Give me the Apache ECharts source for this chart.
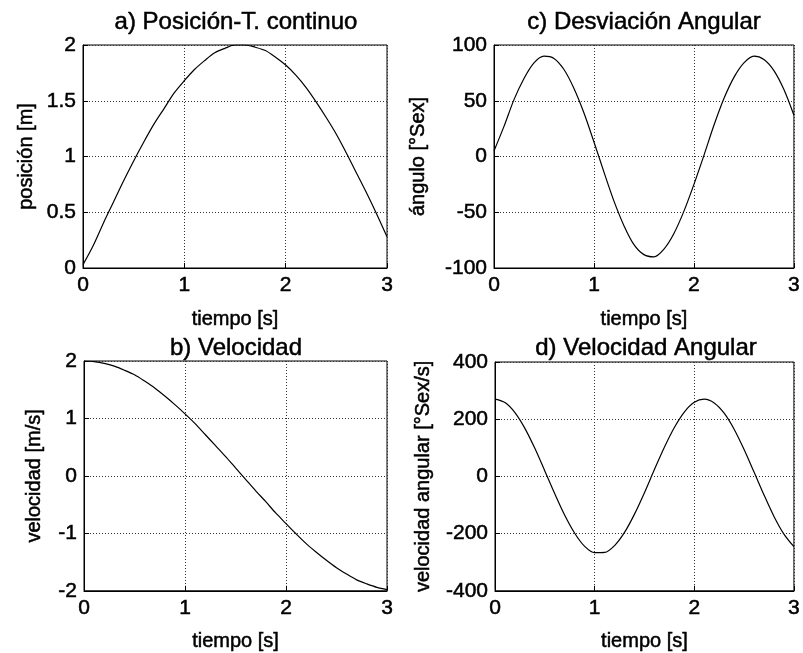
<!DOCTYPE html>
<html>
<head>
<meta charset="utf-8">
<script src="https://cdn.jsdelivr.net/npm/echarts@6/dist/echarts.min.js"></script>
<style>
  html, body { margin: 0; padding: 0; background: #fff; }
  #chart { width: 803px; height: 653px; }
</style>
</head>
<body>
<div id="chart"></div>
<script>
// Sample times [s]
const tiempo = [0.0, 0.1, 0.2, 0.3, 0.4, 0.5, 0.6, 0.7, 0.8, 0.9,
                1.0, 1.1, 1.2, 1.3, 1.4, 1.5, 1.6, 1.7, 1.8, 1.9,
                2.0, 2.1, 2.2, 2.3, 2.4, 2.5, 2.6, 2.7, 2.8, 2.9, 3.0];

// a) position [m]
const posicion = [0.03, 0.20, 0.40, 0.59, 0.78, 0.96, 1.13, 1.29, 1.43, 1.57,
                  1.68, 1.78, 1.86, 1.93, 1.97, 2.00, 2.00, 1.98, 1.95, 1.89,
                  1.82, 1.73, 1.62, 1.49, 1.35, 1.20, 1.03, 0.85, 0.67, 0.48, 0.28];

// b) velocity [m/s]
const velocidad = [2.00, 1.99, 1.96, 1.91, 1.84, 1.76, 1.65, 1.53, 1.39, 1.24,
                   1.08, 0.91, 0.72, 0.53, 0.34, 0.14, -0.06, -0.26, -0.45, -0.65,
                   -0.83, -1.01, -1.18, -1.33, -1.47, -1.60, -1.71, -1.81, -1.88, -1.94, -1.98];

// c) angular deviation [°Sex]
const angulo = [5, 27, 51, 70, 84, 90, 88, 78, 61, 39,
                13, -14, -40, -62, -79, -88, -90, -83, -69, -49,
                -25, 1, 28, 52, 71, 84, 90, 87, 77, 60, 37];

// d) angular velocity [°Sex/s]
const velAngular = [270, 258, 223, 168, 98, 19, -61, -136, -199, -245,
                    -267, -266, -242, -196, -132, -57, 24, 102, 171, 225,
                    259, 270, 257, 221, 165, 94, 15, -65, -140, -202, -246];

// Axis ranges and tick steps
const xRange = { min: 0, max: 3, step: 1 };
const yRanges = [
  { min: 0, max: 2, step: 0.5 },
  { min: -100, max: 100, step: 50 },
  { min: -2, max: 2, step: 1 },
  { min: -400, max: 400, step: 200 }
];

const titulos = ['a) Posición-T. continuo', 'c) Desviación Angular',
                 'b) Velocidad', 'd) Velocidad Angular'];
const nombresY = ['posición [m]', 'ángulo [°Sex]',
                  'velocidad [m/s]', 'velocidad angular [°Sex/s]'];
const nombreX = 'tiempo [s]';
const series = [posicion, angulo, velocidad, velAngular];

const FONT = 'Liberation Sans, Arial, Helvetica, sans-serif';
// slightly heavier strokes for all text
const ink = { color: '#000', textBorderColor: '#000', textBorderWidth: 0.5 };

// Panel layout: a (top-left), c (top-right), b (bottom-left), d (bottom-right)
const grids = [
  { left: 83,  top: 45,  width: 304, height: 223 },
  { left: 494, top: 45,  width: 303, height: 223 },
  { left: 84,  top: 361, width: 303, height: 233 },
  { left: 495, top: 362, width: 302, height: 232 }
];
const titleCenters = [[236, 10], [644, 10], [236, 336], [646, 336]];
const yNameGaps = [47, 66, 40, 62];

const splitStyle = { show: true, lineStyle: { color: '#333', type: [1, 2], width: 1 } };

const option = {
  backgroundColor: '#fff',
  animation: false,
  title: titulos.map((t, i) => ({
    text: t,
    left: titleCenters[i][0],
    top: titleCenters[i][1],
    textAlign: 'center',
    padding: 0,
    textStyle: Object.assign({ fontFamily: FONT, fontSize: 24, fontWeight: 'normal' }, ink)
  })),
  grid: grids.map(g => Object.assign({ show: true, borderColor: '#000', borderWidth: 1,
                                         backgroundColor: '#fff' }, g)),
  xAxis: grids.map((g, i) => ({
    type: 'value',
    gridIndex: i,
    min: xRange.min, max: xRange.max, interval: xRange.step,
    name: nombreX,
    nameLocation: 'middle',
    nameGap: 41,
    nameTextStyle: Object.assign({ fontFamily: FONT, fontSize: 20 }, ink),
    axisLine: { show: true, onZero: false, lineStyle: { color: '#000', width: 1 } },
    axisTick: { show: true, inside: true, length: 5, lineStyle: { color: '#000' } },
    axisLabel: Object.assign({ fontFamily: FONT, fontSize: 21, margin: 7 }, ink),
    splitLine: splitStyle
  })),
  yAxis: grids.map((g, i) => ({
    type: 'value',
    gridIndex: i,
    min: yRanges[i].min, max: yRanges[i].max, interval: yRanges[i].step,
    name: nombresY[i],
    nameLocation: 'middle',
    nameRotate: 90,
    nameGap: yNameGaps[i],
    nameTextStyle: Object.assign({ fontFamily: FONT, fontSize: 20 }, ink),
    axisLine: { show: true, onZero: false, lineStyle: { color: '#000', width: 1 } },
    axisTick: { show: true, inside: true, length: 5, lineStyle: { color: '#000' } },
    axisLabel: Object.assign({ fontFamily: FONT, fontSize: 21, margin: 7 }, ink),
    splitLine: splitStyle
  })),
  series: series.map((vals, i) => ({
    type: 'line',
    xAxisIndex: i,
    yAxisIndex: i,
    data: tiempo.map((t, k) => [t, vals[k]]),
    showSymbol: false,
    smooth: 0.3,
    lineStyle: { color: '#000', width: 1.2 },
    silent: true
  }))
};

echarts.init(document.getElementById('chart'), null, { renderer: 'canvas' }).setOption(option);
</script>
</body>
</html>
